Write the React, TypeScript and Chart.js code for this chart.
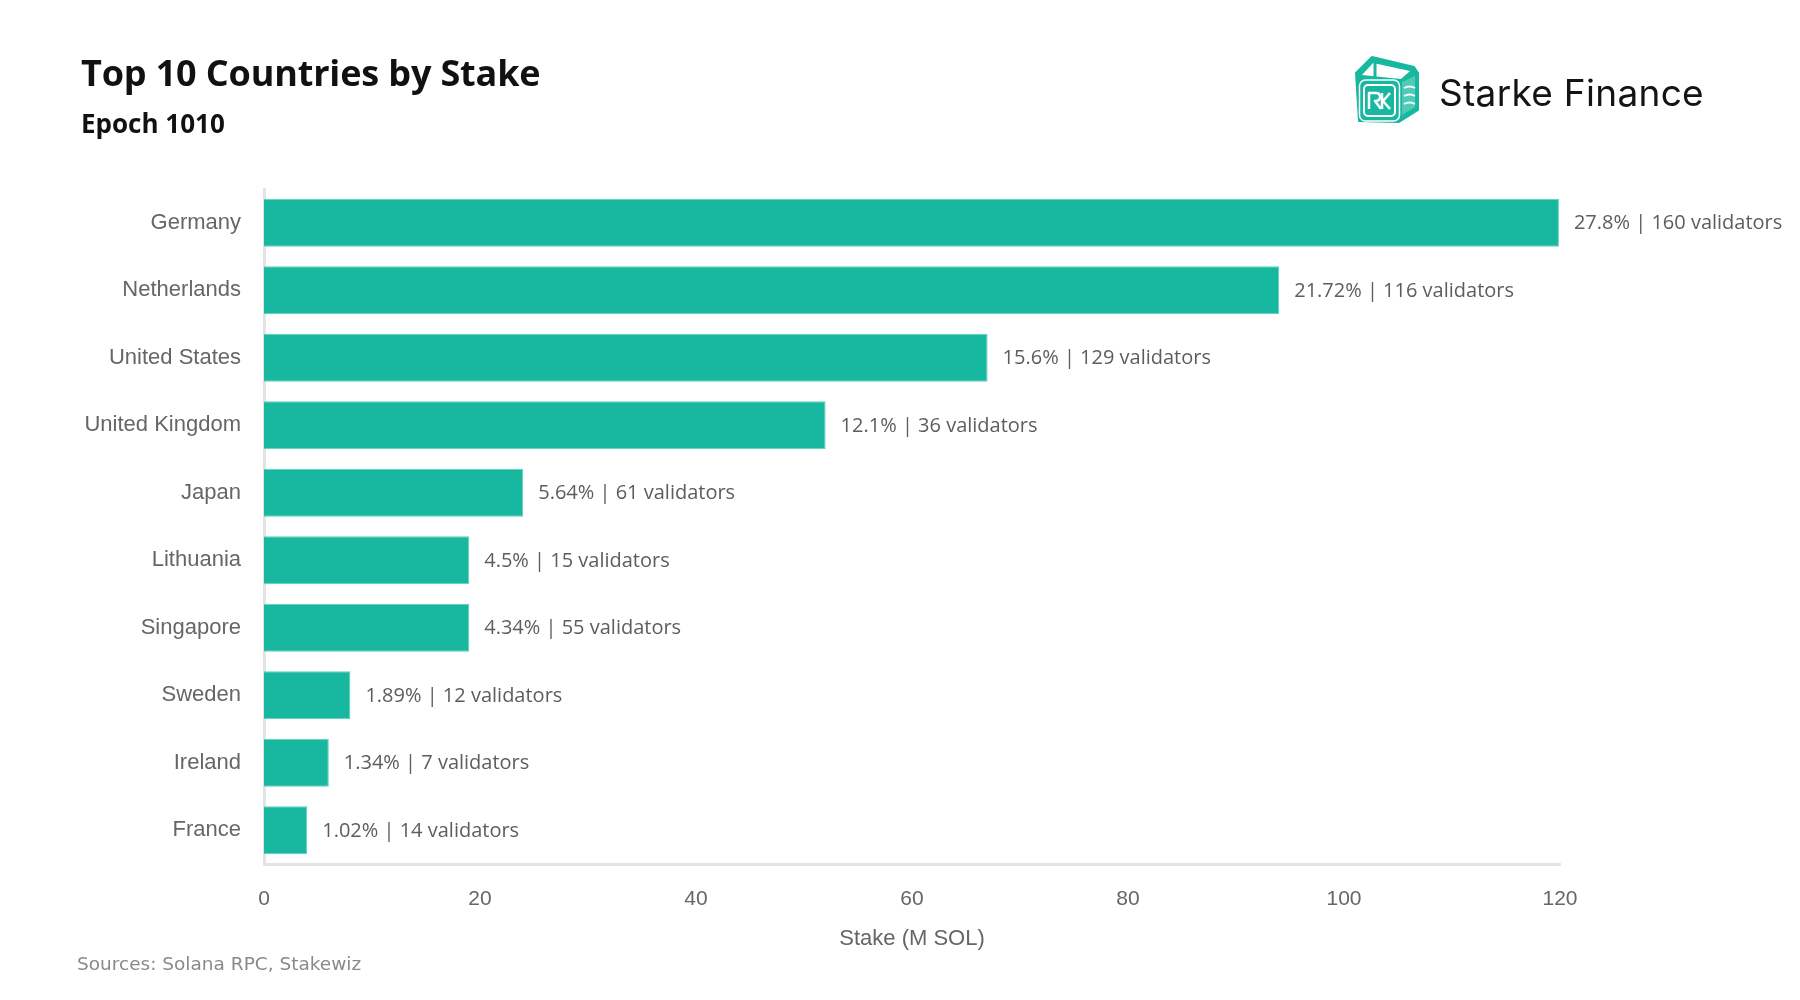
import React, { useEffect, useRef } from 'react';
import Chart from 'chart.js/auto';

const countries = ['Germany', 'Netherlands', 'United States', 'United Kingdom', 'Japan', 'Lithuania', 'Singapore', 'Sweden', 'Ireland', 'France'];
const stakeMSol = [119.9, 94.0, 67.0, 52.0, 24.0, 19.0, 19.0, 8.0, 6.0, 4.0];
const stakeShare = ['27.8', '21.72', '15.6', '12.1', '5.64', '4.5', '4.34', '1.89', '1.34', '1.02'];
const validatorCounts = [160, 116, 129, 36, 61, 15, 55, 12, 7, 14];
const xTicks = [0, 20, 40, 60, 80, 100, 120];

const TEAL = '#17b89f';
const AXIS_GREY = '#e4e4e4';
const TICK_FONT = '"Liberation Sans", Arial, sans-serif';

// "27.8% | 160 validators" next to each bar
const valueLabels = {
    id: 'valueLabels',
    afterDatasetsDraw(chart: any) {
        const { ctx } = chart;
        const meta = chart.getDatasetMeta(0);
        ctx.save();
        ctx.font = '20px "Open Sans", sans-serif';
        ctx.fillStyle = '#5d5d5d';
        ctx.textAlign = 'left';
        ctx.textBaseline = 'middle';
        meta.data.forEach((bar: any, i: number) => {
            ctx.fillText(`${stakeShare[i]}% | ${validatorCounts[i]} validators`, bar.x + 15, bar.y + 1);
        });
        ctx.restore();
    },
};

function Logo() {
    return (
        <div style={{ position: 'absolute', left: 1355, top: 55, display: 'flex', alignItems: 'flex-start' }}>
            <svg width="64" height="68" viewBox="0 0 64 68">
                <path d="M1,18 L17,2 L59,12 L63,18 L63,55 L44,67 L4,66 Z" fill={TEAL} stroke={TEAL} strokeWidth="2" strokeLinejoin="round" />
                <path d="M7,20 L18,8 L55,16 L46,24 Z" fill="#fff" />
                <path d="M20,7 L20,22" stroke={TEAL} strokeWidth="3" />
                <path d="M47,27 L60,21 L60,52 L47,60 Z" fill="#fff" opacity="0.25" />
                <rect x="4.5" y="25" width="40" height="41" rx="6" fill="none" stroke="#fff" strokeWidth="1.5" />
                <rect x="9" y="30" width="31" height="31" rx="4" fill="none" stroke="#fff" strokeWidth="2" />
                <path d="M14,54 L14,38 L21,38 Q25,38 25,42 Q25,46 20,46 L26,54" fill="none" stroke="#fff" strokeWidth="2.5" strokeLinejoin="round" />
                <path d="M27,38 L27,54 M35,38 L28,46 L35,54" fill="none" stroke="#fff" strokeWidth="2.5" strokeLinejoin="round" />
                <path d="M49,33 Q55,30 60,33 M49,41 Q55,38 60,41 M49,49 Q55,46 60,49" fill="none" stroke="#fff" strokeWidth="1.8" />
            </svg>
            <div style={{ marginLeft: 20, marginTop: 19, fontFamily: 'Inter, sans-serif', fontSize: 37, lineHeight: '37px', color: '#141414', letterSpacing: 0.3 }}>
                Starke Finance
            </div>
        </div>
    );
}

export default function App() {
    const chartRef = useRef<HTMLCanvasElement>(null);
    const chartInstance = useRef<Chart | null>(null);

    useEffect(() => {
        if (!chartRef.current) return;
        if (chartInstance.current) chartInstance.current.destroy();

        chartInstance.current = new Chart(chartRef.current, {
            type: 'bar',
            data: {
                labels: countries,
                datasets: [{
                    label: 'Stake (M SOL)',
                    data: stakeMSol,
                    backgroundColor: TEAL,
                    borderColor: '#5fcfbd',
                    borderWidth: 1,
                    barPercentage: 0.71,
                    categoryPercentage: 1,
                }],
            },
            options: {
                indexAxis: 'y',
                responsive: false,
                animation: false,
                layout: {
                    padding: { top: 189, left: 0, right: 240, bottom: 43 },
                },
                plugins: {
                    legend: { display: false },
                    title: { display: false },
                    tooltip: { enabled: false },
                },
                scales: {
                    x: {
                        min: xTicks[0],
                        max: xTicks[xTicks.length - 1],
                        grid: { display: false, drawTicks: false },
                        border: { display: true, color: AXIS_GREY, width: 3 },
                        ticks: {
                            stepSize: xTicks[1] - xTicks[0],
                            padding: 23,
                            color: '#666',
                            font: { family: TICK_FONT, size: 21 },
                        },
                        title: {
                            display: true,
                            text: 'Stake (M SOL)',
                            color: '#666',
                            font: { family: TICK_FONT, size: 22 },
                            padding: { top: 0, bottom: 5 },
                        },
                        afterFit(scale: any) { scale.height = 93; },
                    },
                    y: {
                        grid: { display: false, drawTicks: false },
                        border: { display: true, color: AXIS_GREY, width: 3 },
                        ticks: {
                            padding: 23,
                            color: '#666',
                            font: { family: TICK_FONT, size: 22 },
                        },
                        afterFit(scale: any) { scale.width = 264; },
                    },
                },
            } as any,
            plugins: [valueLabels],
        });

        return () => {
            if (chartInstance.current) {
                chartInstance.current.destroy();
                chartInstance.current = null;
            }
        };
    }, []);

    return (
        <div style={{ position: 'fixed', left: 0, top: 0, width: 1800, height: 1000, background: '#fff', overflow: 'hidden' }}>
            <canvas ref={chartRef} width={1800} height={1000} style={{ position: 'absolute', left: 0, top: 0, width: 1800, height: 1000 }}></canvas>
            <div style={{ position: 'absolute', left: 81, top: 55, fontFamily: '"Open Sans", sans-serif', fontWeight: 700, fontSize: 36, lineHeight: '36px', color: '#111', letterSpacing: -0.15 }}>
                Top 10 Countries by Stake
            </div>
            <div style={{ position: 'absolute', left: 81, top: 110, fontFamily: '"Open Sans", sans-serif', fontWeight: 700, fontSize: 26, lineHeight: '26px', color: '#111' }}>
                Epoch 1010
            </div>
            <Logo />
            <div style={{ position: 'absolute', left: 77, top: 954, fontFamily: '"DejaVu Sans", Verdana, sans-serif', fontSize: 18.5, lineHeight: '20px', color: '#8a8a8a' }}>
                Sources: Solana RPC, Stakewiz
            </div>
        </div>
    );
}
